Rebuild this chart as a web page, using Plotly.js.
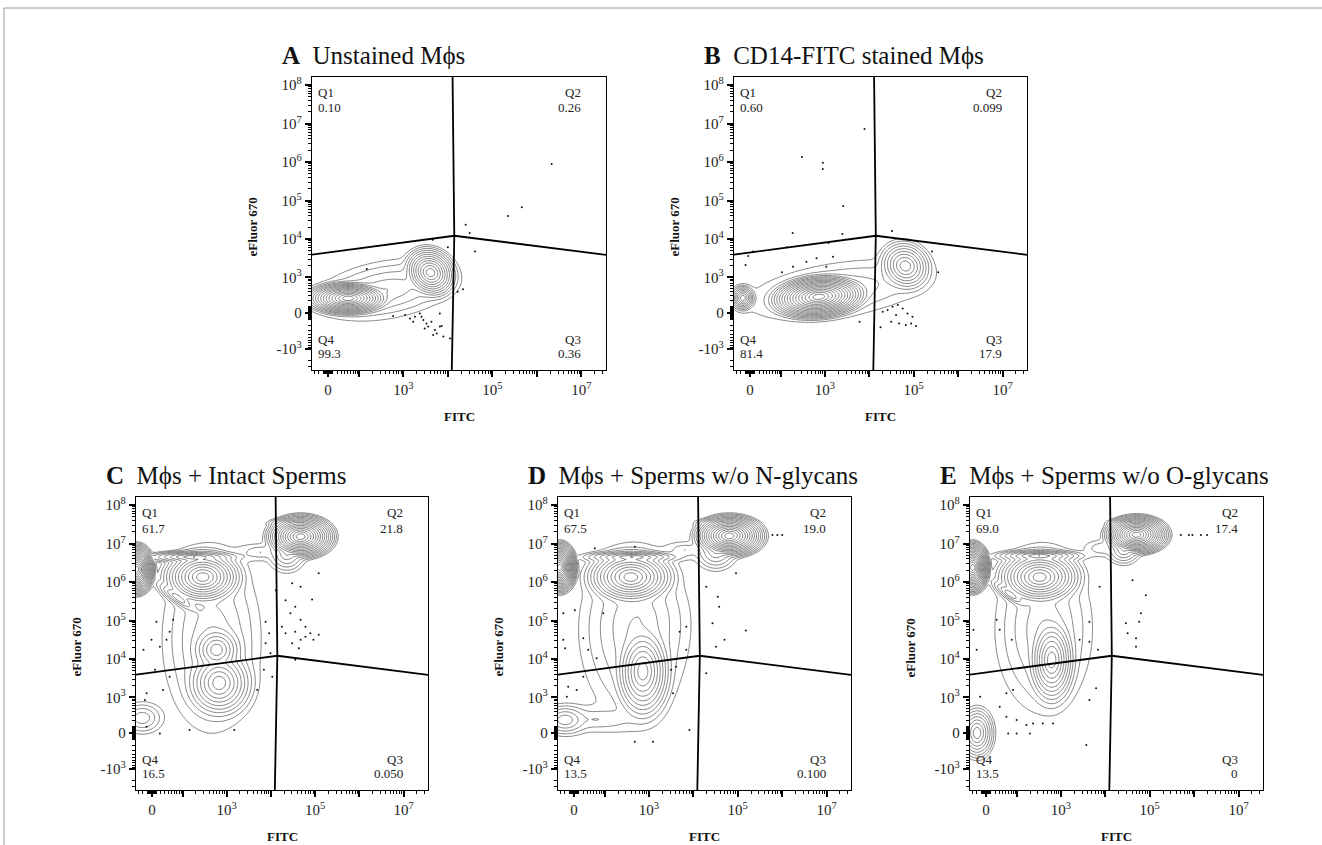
<!DOCTYPE html>
<html><head><meta charset="utf-8">
<script src="https://cdn.plot.ly/plotly-3.0.1.min.js"></script>
<style>html,body{margin:0;padding:0;background:#fff;}#chart{width:1322px;height:845px;}</style>
</head><body><div id="chart"></div>
<script>
// ---------------- DATA ----------------
const panelLetters = ['A','B','C','D','E'];
const panelTitles = ['Unstained Mϕs','CD14-FITC stained Mϕs','Mϕs + Intact Sperms','Mϕs + Sperms w/o N-glycans','Mϕs + Sperms w/o O-glycans'];
const q1Values = ['0.10','0.60','61.7','67.5','69.0'];
const q2Values = ['0.26','0.099','21.8','19.0','17.4'];
const q3Values = ['0.36','17.9','0.050','0.100','0'];
const q4Values = ['99.3','81.4','16.5','13.5','13.5'];
const xAxisTitle = 'FITC';
const yAxisTitle = 'eFluor 670';

// axis tick values (raw fluorescence) and labels
const xLabelValues = [0, 1e3, 1e5, 1e7];
const xLabelExps = ['', '3', '5', '7'];
const xUnlabelledDecades = [1e2, 1e4, 1e6];
const yMajorValues = [-1e3, 0, 1e3, 1e4, 1e5, 1e6, 1e7, 1e8];
const yLabelExps = ['3', '', '3', '4', '5', '6', '7', '8'];

// quadrant gate (raw values): vertical line FITC at top / centre / bottom, horizontal eFluor at left / centre / right
const gateFITC = [1.28e4, 1.4e4, 1.23e4];
const gateEFluor = [3.95e3, 1.22e4, 3.9e3];

// populations on the display (biexponential) scale: [centre FITC, centre eFluor, radius FITC, radius eFluor, tilt deg, contour rings]
const popsA = [[0.45,0.38,1.05,0.48,0,16],[2.30,1.05,0.62,0.74,25,12],[1.30,0.60,1.65,0.75,12,4]];
const popsB = [[-0.16,0.39,0.30,0.36,0,9],[1.55,0.42,1.22,0.62,6,18],[1.45,0.12,0.85,0.22,0,5],[3.50,1.22,0.62,0.72,20,9],[2.00,0.60,2.10,0.70,10,3]];
const popsC = [[-0.35,4.25,0.45,0.72,0,18],[1.35,2.45,1.12,2.45,0,4],[1.15,4.05,1.00,0.80,0,13],[0.95,4.57,1.15,0.18,0,8],[0.60,3.50,0.70,0.20,-40,6],[1.46,2.16,0.70,0.78,0,9],[1.52,1.30,0.85,1.00,0,10],[-0.22,0.39,0.48,0.42,0,4],[3.36,5.10,0.85,0.62,0,16],[3.05,4.65,0.45,0.50,0,5],[3.25,5.45,0.65,0.15,0,7],[2.45,4.70,0.45,0.20,0,2]];
const popsD = [[-0.32,4.30,0.42,0.72,0,18],[1.35,2.60,1.22,2.30,0,4],[1.28,4.05,1.10,0.80,0,13],[1.30,4.57,1.20,0.18,0,8],[1.55,1.60,0.72,1.40,0,11],[1.45,3.00,0.90,1.10,0,3],[-0.20,0.34,0.55,0.42,0,5],[0.50,0.35,0.90,0.30,0,2],[3.50,5.12,0.88,0.60,0,16],[3.20,4.70,0.50,0.50,0,5],[3.40,5.45,0.70,0.15,0,7],[2.50,4.75,0.40,0.20,0,2]];
const popsE = [[-0.30,4.30,0.42,0.72,0,18],[1.30,2.70,1.10,2.20,0,4],[1.21,4.05,1.05,0.80,0,13],[1.20,4.60,1.10,0.18,0,8],[0.55,3.60,0.60,0.18,-40,6],[1.48,1.90,0.60,1.30,0,11],[-0.20,0.00,0.42,0.72,0,8],[3.39,5.15,0.80,0.55,0,16],[3.10,4.75,0.40,0.40,0,5],[3.30,5.45,0.60,0.14,0,7],[2.60,4.80,0.35,0.20,0,2]];

// outlier events (display scale)
const dotsAx = [1.46,1.73,1.84,1.95,2.06,2.14,2.21,2.25,2.32,2.40,2.44,2.51,2.59,2.51,1.91,2.10,2.17,2.36,2.74,2.55,5.02,4.35,4.04,3.09,3.18,3.30,2.35,0.87,3.03,2.91,2.69];
const dotsAy = [-0.08,-0.05,-0.14,-0.10,-0.01,-0.18,-0.27,-0.35,-0.23,-0.44,-0.53,-0.35,-0.61,-0.01,-0.23,-0.10,-0.40,-0.57,-0.66,-0.34,3.87,2.75,2.52,2.29,2.08,1.60,1.90,1.14,0.62,0.55,1.71];
const dotsBx = [2.99,3.10,3.21,3.33,3.44,3.55,3.66,3.18,3.36,3.51,3.63,3.74,2.94,3.29,2.58,1.17,1.64,1.64,2.10,0.96,2.08,3.20,0.07,-0.04,-0.10,0.83,1.77,4.10,4.24,0.72,2.47,1.27,1.50,1.72,1.87,0.97];
const dotsBy = [0.03,0.08,0.16,0.21,0.12,-0.01,-0.10,-0.23,-0.27,-0.31,-0.27,-0.34,-0.37,-0.05,4.78,4.05,3.90,3.74,2.78,2.08,2.05,2.13,1.60,1.48,1.25,1.71,1.82,1.60,1.06,1.06,-0.23,1.33,1.42,1.20,1.46,1.20];
const dotsCx = [3.17,3.36,3.02,3.24,3.62,3.13,3.36,3.47,3.24,3.02,3.58,3.77,3.17,3.36,3.47,3.65,3.32,2.94,3.77,2.80,-0.19,-0.01,0.10,0.18,0.33,0.40,0.48,0.07,0.40,-0.12,0.25,-0.16,0.18,-0.12,2.57,2.65,2.57,2.68,2.53,2.72,2.38,0.85,1.86,3.24];
const dotsCy = [3.89,3.80,3.45,3.28,3.47,3.11,2.94,2.76,2.63,2.59,2.59,2.55,2.33,2.42,2.50,2.42,2.20,2.76,4.15,3.71,2.16,2.42,2.89,2.24,2.42,2.63,2.94,1.64,1.46,1.03,1.12,0.86,-0.01,0.16,2.89,2.59,2.33,2.07,1.64,1.46,1.12,0.08,0.08,1.90];
const dotsDx = [0.47,1.37,0.02,0.21,-0.24,0.32,-0.20,0.51,-0.13,0.06,0.21,-0.16,1.78,1.37,2.60,2.23,2.19,2.38,2.53,2.98,3.24,3.27,3.12,3.39,3.87,3.20,2.98,3.65,4.47,4.58,4.69,2.30,-0.24,0.66,2.53];
const dotsDy = [4.80,4.84,3.19,2.46,2.42,2.16,2.20,1.94,1.20,1.12,1.46,0.94,-0.23,-0.23,0.08,1.03,1.64,2.63,2.16,3.80,3.54,3.28,2.85,2.42,2.66,2.24,1.55,4.15,5.14,5.14,5.14,1.72,3.11,3.11,2.76];
const dotsEx = [4.39,4.57,4.65,4.84,4.98,3.30,3.60,3.49,3.45,3.15,3.19,3.38,3.38,2.56,2.33,2.52,2.33,2.11,0.58,-0.21,0.31,-0.28,0.24,0.61,0.31,0.46,0.69,0.91,1.06,0.69,0.50,0.99,1.28,1.51,0.46,2.26,2.33,2.48,-0.13];
const dotsEy = [5.14,5.14,5.14,5.14,5.14,3.97,3.58,3.11,2.89,2.85,2.59,2.46,2.24,3.80,2.89,2.16,2.37,2.42,2.42,2.16,2.68,2.68,2.94,1.12,0.68,0.42,0.34,0.21,0.25,-0.01,-0.01,-0.01,0.25,0.25,1.03,-0.31,0.86,1.16,0.94];

// ---------------- SCALES ----------------
const LN10 = Math.log(10);
const WX = 41, WY = 240;
const tX = v => Math.asinh(v / WX) / LN10;
const tY = v => Math.asinh(v / WY) / LN10;
const X_RANGE = [-0.36, 6.24];
const Y_RANGE = [-1.48, 6.13];

function minorList(neg, maxExp) {
  const out = [];
  for (let k = 1; k <= 9; k++) { out.push(k); out.push(-k); }
  for (let k = 10; k <= 90; k += 10) { out.push(k); out.push(-k); }
  for (let k = 200; k <= 900; k += 100) { out.push(k); if (neg) out.push(-k); }
  if (neg) { out.push(-2000); out.push(-3000); }
  for (let e = 3; e <= maxExp; e++) for (let m = 2; m <= 9; m++) out.push(m * Math.pow(10, e));
  return out;
}
const xMinor = minorList(false, 7).map(tX).filter(v => v > X_RANGE[0] && v < X_RANGE[1]);
const yMinor = minorList(true, 8).map(tY).filter(v => v > Y_RANGE[0] && v < Y_RANGE[1]);

function powLabel(v, e) {
  if (v === 0) return '0';
  return (v < 0 ? '-' : '') + '10<sup>' + e + '</sup>';
}

// ---------------- LAYOUT GEOMETRY ----------------
const W = 1322, H = 845;
const boxes = [[312,77,606,370],[734,77,1027,370],[136,497,428,790],[558,497,851,790],[970,497,1263,790]];
const pops = [popsA, popsB, popsC, popsD, popsE];
const dots = [[dotsAx,dotsAy],[dotsBx,dotsBy],[dotsCx,dotsCy],[dotsDx,dotsDy],[dotsEx,dotsEy]];
const P = 1.3;

function densityGrid(pp) {
  const nx = 230, ny = 250, xs = [], ys = [];
  for (let i = 0; i < nx; i++) xs.push(X_RANGE[0] + (X_RANGE[1] - X_RANGE[0]) * i / (nx - 1));
  for (let j = 0; j < ny; j++) ys.push(Y_RANGE[0] + (Y_RANGE[1] - Y_RANGE[0]) * j / (ny - 1));
  const pre = pp.map(p => ({cx: p[0], cy: p[1], rx: p[2], ry: p[3], c: Math.cos(p[4] * Math.PI / 180), s: Math.sin(p[4] * Math.PI / 180), n: p[5]}));
  const z = [];
  for (let j = 0; j < ny; j++) {
    const row = [];
    for (let i = 0; i < nx; i++) {
      let sum = 0;
      for (const q of pre) {
        const dx = xs[i] - q.cx, dy = ys[j] - q.cy;
        const u = (dx * q.c + dy * q.s) / q.rx, v = (-dx * q.s + dy * q.c) / q.ry;
        const r = Math.sqrt(u * u + v * v);
        sum += Math.exp(q.n * (1 - Math.pow(r, P)));
      }
      row.push(Math.log(sum + 1e-12));
    }
    z.push(row);
  }
  return {xs, ys, z};
}

const serif = 'Liberation Serif';
const traces = [], annotations = [], layout = {
  width: W, height: H, margin: {l: 0, r: 0, t: 0, b: 0},
  paper_bgcolor: '#fff', plot_bgcolor: '#fff', showlegend: false,
  font: {family: serif, color: '#222'}
};

boxes.forEach((b, k) => {
  const sfx = k === 0 ? '' : String(k + 1);
  const osfx = String(k + 6);
  const xa = 'x' + sfx, ya = 'y' + sfx;
  const tickStyle = {ticks: 'outside', ticklen: 6, tickwidth: 2, tickcolor: '#000'};
  layout['xaxis' + sfx] = Object.assign({
    domain: [b[0] / W, b[2] / W], anchor: ya, range: X_RANGE, fixedrange: true,
    showgrid: false, zeroline: false, showline: true, linecolor: '#000', linewidth: 1.3, mirror: true,
    tickmode: 'array', tickvals: xLabelValues.map(tX), ticktext: xLabelValues.map((v, i) => powLabel(v, xLabelExps[i])),
    tickfont: {family: serif, size: 15, color: '#222'},
    minor: {tickmode: 'array', tickvals: xMinor, ticks: 'outside', ticklen: 3, tickwidth: 1, tickcolor: '#000', showgrid: false}
  }, tickStyle);
  // companion axis carrying the unlabelled decade ticks
  layout['xaxis' + osfx] = Object.assign({
    overlaying: xa, anchor: ya, side: 'bottom', range: X_RANGE, fixedrange: true,
    showgrid: false, zeroline: false, showline: false, showticklabels: false,
    tickmode: 'array', tickvals: xUnlabelledDecades.map(tX)
  }, tickStyle);
  layout['yaxis' + sfx] = Object.assign({
    domain: [1 - b[3] / H, 1 - b[1] / H], anchor: xa, range: Y_RANGE, fixedrange: true,
    showgrid: false, zeroline: false, showline: true, linecolor: '#000', linewidth: 1.3, mirror: true,
    tickmode: 'array', tickvals: yMajorValues.map(tY), ticktext: yMajorValues.map((v, i) => powLabel(v, yLabelExps[i])),
    tickfont: {family: serif, size: 15, color: '#222'},
    minor: {tickmode: 'array', tickvals: yMinor, ticks: 'outside', ticklen: 3, tickwidth: 1, tickcolor: '#000', showgrid: false}
  }, tickStyle);

  const g = densityGrid(pops[k]);
  traces.push({type: 'contour', x: g.xs, y: g.ys, z: g.z, xaxis: xa, yaxis: ya,
    contours: {start: 0, end: 40, size: 1, coloring: 'none'},
    line: {color: '#333', width: 0.6, smoothing: 1}, showscale: false, hoverinfo: 'skip'});
  traces.push({type: 'scatter', mode: 'markers', x: dots[k][0], y: dots[k][1], xaxis: xa, yaxis: ya,
    marker: {size: 2, color: '#111'}, hoverinfo: 'skip'});
  // invisible anchor trace for the companion axis
  traces.push({type: 'scatter', mode: 'markers', x: [X_RANGE[0]], y: [Y_RANGE[0]], xaxis: 'x' + osfx, yaxis: ya,
    marker: {size: 1, opacity: 0}, hoverinfo: 'skip'});
  // quadrant gate
  traces.push({type: 'scatter', mode: 'lines', xaxis: xa, yaxis: ya, hoverinfo: 'skip',
    x: [tX(gateFITC[0]), tX(gateFITC[1]), tX(gateFITC[2])], y: [Y_RANGE[1], tY(gateEFluor[1]), Y_RANGE[0]],
    line: {color: '#000', width: 1.8}});
  traces.push({type: 'scatter', mode: 'lines', xaxis: xa, yaxis: ya, hoverinfo: 'skip',
    x: [X_RANGE[0], tX(gateFITC[1]), X_RANGE[1]], y: [tY(gateEFluor[0]), tY(gateEFluor[1]), tY(gateEFluor[2])],
    line: {color: '#000', width: 1.8}});

  const qf = {family: serif, size: 13, color: '#222'};
  const px = (x) => x / W, py = (y) => 1 - y / H;
  const addQ = (x, y, txt, anc) => annotations.push({xref: 'paper', yref: 'paper', x: px(x), y: py(y), text: txt,
    showarrow: false, xanchor: anc, yanchor: 'middle', font: qf});
  addQ(b[0] + 4, b[1] + 15.5, 'Q1', 'left');
  addQ(b[0] + 4, b[1] + 31, q1Values[k], 'left');
  addQ(b[2] - 23, b[1] + 15.5, 'Q2', 'right');
  addQ(b[2] - 23, b[1] + 31, q2Values[k], 'right');
  addQ(b[0] + 4, b[3] - 31, 'Q4', 'left');
  addQ(b[0] + 4, b[3] - 16.5, q4Values[k], 'left');
  addQ(b[2] - 23, b[3] - 31, 'Q3', 'right');
  addQ(b[2] - 23, b[3] - 16.5, q3Values[k], 'right');

  annotations.push({xref: 'paper', yref: 'paper', x: px(b[0] - 32), y: py(b[1] - 22), text: '<b>' + panelLetters[k] + '</b>\u00a0\u00a0' + panelTitles[k],
    showarrow: false, xanchor: 'left', yanchor: 'middle', font: {family: serif, size: 25, color: '#111'}});
  annotations.push({xref: 'paper', yref: 'paper', x: px(b[0] - 60), y: py((b[1] + b[3]) / 2 + 4), text: '<b>' + yAxisTitle + '</b>',
    showarrow: false, textangle: -90, xanchor: 'center', yanchor: 'middle', font: {family: serif, size: 13, color: '#111'}});
  annotations.push({xref: 'paper', yref: 'paper', x: px((b[0] + b[2]) / 2), y: py(b[3] + 46), text: '<b>' + xAxisTitle + '</b>',
    showarrow: false, xanchor: 'center', yanchor: 'middle', font: {family: serif, size: 13, color: '#111'}});
});

layout.annotations = annotations;
layout.shapes = [
  {type: 'line', xref: 'paper', yref: 'paper', x0: 4 / W, x1: 1, y0: 1 - 8 / H, y1: 1 - 8 / H, line: {color: '#9a9a9a', width: 1}},
  {type: 'line', xref: 'paper', yref: 'paper', x0: 4 / W, x1: 4 / W, y0: 0, y1: 1 - 8 / H, line: {color: '#9a9a9a', width: 1}}
];

Plotly.newPlot('chart', traces, layout, {displayModeBar: false, staticPlot: true});
</script></body></html>
